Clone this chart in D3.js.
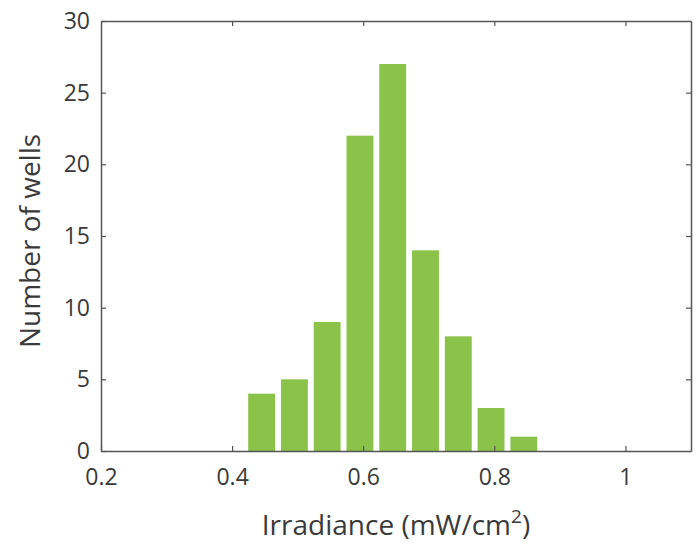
<!DOCTYPE html>
<html>
<head>
<meta charset="utf-8">
<script src="https://cdn.jsdelivr.net/npm/d3@7"></script>
<style>
  body { margin: 0; background: #fff; }
  text { font-family: "Open Sans", sans-serif; fill: #3a3a3a; }
</style>
</head>
<body>
<div id="chart"></div>
<script>
/* HISTOGRAM OF WELL IRRADIANCE */

var binCenters = [0.445, 0.495, 0.545, 0.595, 0.645, 0.695, 0.745, 0.795, 0.845];
var wellCounts = [4, 5, 9, 22, 27, 14, 8, 3, 1];
var xTicks = [0.2, 0.4, 0.6, 0.8, 1];
var yTicks = [0, 5, 10, 15, 20, 25, 30];
var binWidth = 0.05;

function drawHistogram(){

  var w = 700;
  var h = 553;
  var left = 101, right = 691, top = 21, bottom = 451;

  var svg = d3.select("#chart").append("svg")
              .attr("width", w)
              .attr("height", h);

  var x = d3.scaleLinear().domain([0.2, 1.1]).range([left, right]);
  var y = d3.scaleLinear().domain([0, 30]).range([bottom, top]);

  var bars = binCenters.map(function(c, i){ return {center: c, count: wellCounts[i]}; });

  svg.selectAll("rect.bar")
     .data(bars)
     .enter().append("rect")
     .attr("class", "bar")
     .attr("x", function(d){ return x(d.center - binWidth * 0.41); })
     .attr("width", function(d){ return x(d.center + binWidth * 0.41) - x(d.center - binWidth * 0.41); })
     .attr("y", function(d){ return y(d.count); })
     .attr("height", function(d){ return y(0) - y(d.count); })
     .style("fill", "#8bc34a");

  // box with inward ticks on all four sides
  var axisColor = "#555";
  var tickLen = 5;

  var xBottom = svg.append("g")
                   .attr("transform", "translate(0," + bottom + ")")
                   .call(d3.axisBottom(x).tickValues(xTicks).tickSizeInner(-tickLen).tickSizeOuter(0)
                           .tickPadding(18).tickFormat(d3.format("")));
  var xTop = svg.append("g")
                .attr("transform", "translate(0," + top + ")")
                .call(d3.axisTop(x).tickValues(xTicks).tickSizeInner(-tickLen).tickSizeOuter(0).tickFormat(""));
  var yLeft = svg.append("g")
                 .attr("transform", "translate(" + left + ",0)")
                 .call(d3.axisLeft(y).tickValues(yTicks).tickSizeInner(-tickLen).tickSizeOuter(0).tickPadding(11));
  var yRight = svg.append("g")
                  .attr("transform", "translate(" + right + ",0)")
                  .call(d3.axisRight(y).tickValues(yTicks).tickSizeInner(-tickLen).tickSizeOuter(0).tickFormat(""));

  [xBottom, xTop, yLeft, yRight].forEach(function(g){
    g.select(".domain").attr("stroke", axisColor).attr("stroke-width", 1.5);
    g.selectAll(".tick line").attr("stroke", axisColor).attr("stroke-width", 1.2);
    g.selectAll(".tick text").style("font-size", "23px").style("fill", "#3a3a3a");
  });
  svg.selectAll("g").attr("font-family", null).attr("font-size", null);
  // drop ticks that overlap the box corners
  xTop.selectAll(".tick").filter(function(d){ return d === 0.2; }).remove();
  yRight.selectAll(".tick").filter(function(d){ return d === 0 || d === 30; }).remove();

  svg.append("text")
     .attr("x", 396)
     .attr("y", 535)
     .attr("text-anchor", "middle")
     .style("font-size", "28px")
     .html('Irradiance (mW/cm<tspan dy="-12" style="font-size:19px">2</tspan><tspan dy="12">)</tspan>');

  svg.append("text")
     .attr("transform", "translate(40," + 241 + ") rotate(-90)")
     .attr("text-anchor", "middle")
     .style("font-size", "28px")
     .text("Number of wells");

};

drawHistogram();
</script>
</body>
</html>
